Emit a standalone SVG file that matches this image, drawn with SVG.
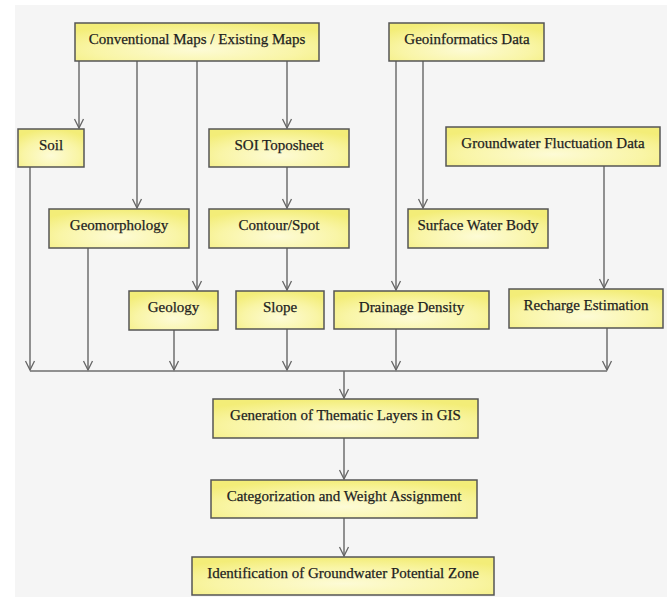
<svg xmlns="http://www.w3.org/2000/svg" width="672" height="597" viewBox="0 0 672 597">
<defs>
<radialGradient id="yel" cx="0.5" cy="0.7" r="0.7">
<stop offset="0" stop-color="#fdfbd6"/>
<stop offset="0.6" stop-color="#f9f5a6"/>
<stop offset="1" stop-color="#f3ed78"/>
</radialGradient>
<marker id="arr" markerUnits="userSpaceOnUse" markerWidth="20" markerHeight="20" viewBox="-10 -10 20 20" refX="0" refY="0" orient="auto" overflow="visible">
<path d="M-9,-4.5 L0,0 L-9,4.5" fill="none" stroke="#666" stroke-width="1.3"/>
</marker>
</defs>
<style>
.box{fill:url(#yel);stroke:#555;stroke-width:1.5}
.lbl{font-size:15px;fill:#1e1e1e;stroke:#1e1e1e;stroke-width:0.25;text-anchor:middle}
.c{fill:none;stroke:#6e6e6e;stroke-width:1.5}
.a{marker-end:url(#arr)}
</style>
<rect x="15" y="5" width="652" height="592" fill="#f5f5f5"/>
<g id="connectors">
<path class="c a" d="M79,61 V128"/>
<path class="c a" d="M137,61 V208"/>
<path class="c a" d="M197,61 V290"/>
<path class="c a" d="M287,61 V128"/>
<path class="c a" d="M287,167 V208"/>
<path class="c a" d="M287,248 V290"/>
<path class="c a" d="M396,61 V290"/>
<path class="c a" d="M423,61 V208"/>
<path class="c a" d="M604,166 V288"/>
<path class="c a" d="M30,167 V370"/>
<path class="c a" d="M88,248 V370"/>
<path class="c a" d="M174,330 V370"/>
<path class="c a" d="M287,329 V370"/>
<path class="c a" d="M396,329 V370"/>
<path class="c a" d="M607,328 V370"/>
<path class="c" d="M30,371 H607"/>
<path class="c a" d="M344,371 V398"/>
<path class="c a" d="M344,438 V479"/>
<path class="c a" d="M344,518 V556"/>
</g>
<g font-family="Liberation Serif, Times New Roman, serif">
<g id="conventional"><rect class="box" x="75" y="23" width="244" height="38"/><text class="lbl" x="197" y="43.5">Conventional Maps / Existing Maps</text></g>
<g id="geoinformatics"><rect class="box" x="389" y="23" width="155" height="38"/><text class="lbl" x="467" y="43.5">Geoinformatics Data</text></g>
<g id="soil"><rect class="box" x="18" y="129" width="66" height="38"/><text class="lbl" x="51" y="149.5">Soil</text></g>
<g id="soi"><rect class="box" x="209" y="129" width="140" height="38"/><text class="lbl" x="279" y="149.5">SOI Toposheet</text></g>
<g id="groundwater"><rect class="box" x="446" y="127" width="214" height="39"/><text class="lbl" x="553" y="147.5">Groundwater Fluctuation Data</text></g>
<g id="geomorphology"><rect class="box" x="49" y="209" width="140" height="39"/><text class="lbl" x="119" y="229.5">Geomorphology</text></g>
<g id="contour"><rect class="box" x="209" y="209" width="140" height="39"/><text class="lbl" x="279" y="229.5">Contour/Spot</text></g>
<g id="surface"><rect class="box" x="408" y="209" width="140" height="39"/><text class="lbl" x="478" y="229.5">Surface Water Body</text></g>
<g id="geology"><rect class="box" x="129" y="291" width="89" height="39"/><text class="lbl" x="173.5" y="311.5">Geology</text></g>
<g id="slope"><rect class="box" x="236" y="291" width="88" height="38"/><text class="lbl" x="280" y="311.5">Slope</text></g>
<g id="drainage"><rect class="box" x="334" y="291" width="155" height="38"/><text class="lbl" x="411.5" y="311.5">Drainage Density</text></g>
<g id="recharge"><rect class="box" x="509" y="289" width="154" height="39"/><text class="lbl" x="586" y="309.5">Recharge Estimation</text></g>
<g id="generation"><rect class="box" x="213" y="399" width="265" height="39"/><text class="lbl" x="345.5" y="419.5">Generation of Thematic Layers in GIS</text></g>
<g id="categorization"><rect class="box" x="211" y="480" width="266" height="38"/><text class="lbl" x="344" y="500.5">Categorization and Weight Assignment</text></g>
<g id="identification"><rect class="box" x="192" y="557" width="302" height="38"/><text class="lbl" x="343" y="577.5">Identification of Groundwater Potential Zone</text></g>
</g>
</svg>
